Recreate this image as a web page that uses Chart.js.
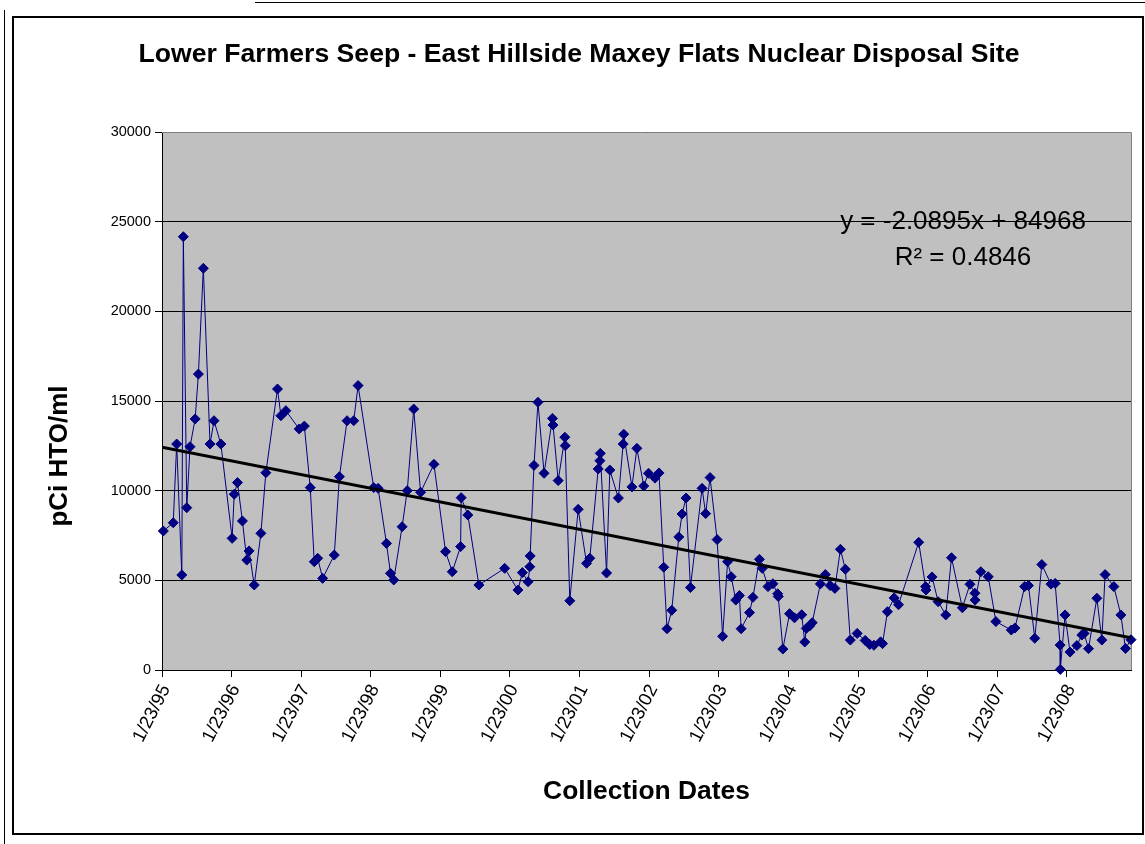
<!DOCTYPE html>
<html><head><meta charset="utf-8">
<script src="https://cdn.jsdelivr.net/npm/chart.js@4.4.1/dist/chart.umd.min.js"></script>
<style>html,body{margin:0;padding:0;background:#fff;}canvas{display:block;}</style>
</head><body>
<canvas id="c" width="1145" height="844"></canvas>
<script>
const chartTitle = 'Lower Farmers Seep - East Hillside Maxey Flats Nuclear Disposal Site';
const xAxisTitle = 'Collection Dates';
const yAxisTitle = 'pCi HTO/ml';
const tickLabels = ['1/23/95','1/23/96','1/23/97','1/23/98','1/23/99','1/23/00','1/23/01','1/23/02','1/23/03','1/23/04','1/23/05','1/23/06','1/23/07','1/23/08'];
const yTickStep = 5000;
const yMax = 30000;
// Collection dates as Excel date serials (days since 12/30/1899)
const dates = [34729,34781,34799,34826,34834,34852,34869,34896,34913,34939,
34974,34995,35031,35090,35101,35118,35144,35167,35179,35206,
35241,35267,35328,35346,35372,35442,35469,35500,35521,35539,
35565,35626,35653,35693,35728,35751,35833,35856,35900,35921,
35938,35982,36009,36043,36079,36149,36210,36245,36289,36292,
36327,36385,36520,36590,36613,36643,36652,36654,36674,36695,
36727,36771,36774,36801,36836,36838,36862,36906,36950,36967,
37011,37020,37022,37055,37072,37117,37142,37145,37188,37214,
37250,37275,37309,37330,37355,37372,37397,37434,37451,37472,
37495,37556,37575,37598,37635,37664,37690,37709,37733,37752,
37761,37805,37823,37857,37872,37902,37928,37953,37956,37980,
38015,38041,38079,38095,38103,38120,38134,38177,38203,38228,
38253,38282,38308,38334,38370,38412,38436,38458,38493,38503,
38529,38564,38587,38693,38729,38731,38763,38795,38835,38865,
38922,38962,38988,38989,39019,39058,39098,39179,39198,39249,
39269,39302,39339,39387,39409,39435,39436,39461,39487,39523,
39549,39561,39584,39628,39654,39671,39717,39754,39778,39807];
// pCi HTO/ml
const values = [7750,8210,12600,5300,24160,9050,12450,14000,16500,22400,
12600,13900,12600,7340,9800,10450,8310,6130,6640,4740,
7620,11000,15670,14180,14460,13440,13600,10170,6040,6230,
5110,6410,10780,13900,13900,15860,10170,10130,7060,5390,
5020,7990,10000,14550,9910,11470,6600,5480,6880,9610,
8640,4740,5670,4460,5430,4920,5760,6360,11410,14930,
10970,14030,13660,10560,12980,12510,3860,8960,5950,6230,
11210,11670,12080,5410,11150,9590,12600,13150,10210,12360,
10260,10970,10700,10990,5730,2300,3330,7420,8700,9590,
4600,10130,8720,10730,7270,1880,6040,5200,3900,4150,
2300,3200,4050,6170,5670,4650,4810,4250,4100,1170,
3140,2910,3080,1560,2320,2450,2640,4800,5320,4710,
4550,6730,5620,1670,2040,1650,1420,1380,1570,1470,
3250,4020,3640,7120,4650,4460,5190,3810,3070,6260,
3470,4780,4280,3900,5480,5200,2700,2230,2340,4650,
4710,1770,5880,4790,4830,1390,30,3070,1000,1360,
1950,2040,1190,4000,1670,5320,4650,3070,1200,1690];
const trendSlope = -2.0895;
const trendIntercept = 84968;
const trendLabel = 'y = -2.0895x + 84968';
const r2Label = 'R\u00B2 = 0.4846';

const FONT = '"Liberation Sans", Arial, sans-serif';
const EPOCH = Date.UTC(1899, 11, 30);
function labelToSerial(s) {
  const [m, d, y] = s.split('/').map(Number);
  const yr = y < 50 ? 2000 + y : 1900 + y;
  return Math.round((Date.UTC(yr, m - 1, d) - EPOCH) / 86400000);
}
const xMin = labelToSerial(tickLabels[0]);
const xMax = dates[dates.length - 1];

const framePlugin = {
  id: 'frame',
  beforeDraw(chart) {
    const {ctx, chartArea: a} = chart;
    ctx.save();
    ctx.fillStyle = '#fff';
    ctx.fillRect(0, 0, chart.width, chart.height);
    ctx.strokeStyle = '#000';
    ctx.lineWidth = 1;
    ctx.beginPath();
    ctx.moveTo(255, 2.5); ctx.lineTo(chart.width, 2.5);
    ctx.moveTo(4.5, 10); ctx.lineTo(4.5, chart.height);
    ctx.stroke();
    ctx.lineWidth = 2;
    ctx.strokeRect(13, 17, 1130, 817);
    ctx.fillStyle = '#C0C0C0';
    ctx.fillRect(a.left, a.top, a.right - a.left, a.bottom - a.top);
    ctx.restore();
  },
  beforeDatasetsDraw(chart) {
    const {ctx, chartArea: a} = chart;
    ctx.save();
    ctx.strokeStyle = '#808080';
    ctx.lineWidth = 1;
    ctx.beginPath();
    ctx.moveTo(a.left, a.top + 0.5); ctx.lineTo(a.right + 0.5, a.top + 0.5);
    ctx.lineTo(a.right + 0.5, a.bottom);
    ctx.stroke();
    ctx.restore();
  },
  afterDraw(chart) {
    const {ctx, chartArea: a} = chart;
    ctx.save();
    ctx.fillStyle = '#000';
    ctx.textAlign = 'center';
    ctx.textBaseline = 'middle';
    ctx.font = 'bold 26.6px ' + FONT;
    ctx.fillText(chartTitle, 579, 55);
    ctx.font = '26px ' + FONT;
    ctx.fillText(trendLabel, a.right - 168, a.top + 90);
    ctx.fillText(r2Label, a.right - 168, a.top + 126);
    ctx.font = 'bold 26px ' + FONT;
    ctx.translate(60, 456);
    ctx.rotate(-Math.PI / 2);
    ctx.fillText(yAxisTitle, 0, 0);
    ctx.restore();
  }
};

new Chart(document.getElementById('c'), {
  type: 'line',
  data: {
    datasets: [
      {
        label: 'Linear trend',
        data: [{x: xMin, y: trendSlope * xMin + trendIntercept}, {x: xMax, y: trendSlope * xMax + trendIntercept}],
        borderColor: '#000', borderWidth: 3, pointRadius: 0, order: 0
      },
      {
        label: 'Lower Farmers Seep',
        data: dates.map((d, i) => ({x: d, y: values[i]})),
        borderColor: '#000080', backgroundColor: '#000080', borderWidth: 1,
        pointStyle: 'rectRot', pointRadius: 5, pointBorderWidth: 1,
        pointBackgroundColor: '#000080', pointBorderColor: '#000080',
        tension: 0, clip: false, order: 1
      }
    ]
  },
  options: {
    responsive: false, animation: false, devicePixelRatio: 1,
    layout: {padding: {left: 0, right: 14, top: 132, bottom: 0}},
    plugins: {
      legend: {display: false},
      tooltip: {enabled: false},
      title: {display: false}
    },
    scales: {
      x: {
        type: 'linear', min: xMin, max: xMax,
        afterBuildTicks(scale) { scale.ticks = tickLabels.map(l => ({value: labelToSerial(l)})); },
        afterFit(scale) { scale.height = 174; },
        ticks: {autoSkip: false, maxRotation: 63, minRotation: 63, color: '#000', padding: 4,
          labelOffset: 4, font: {family: FONT, size: 18.5},
          callback: (v, i) => tickLabels[i]},
        grid: {drawOnChartArea: false, drawTicks: true, tickLength: 7, tickColor: '#000'},
        border: {color: '#000', width: 1},
        title: {display: true, text: xAxisTitle, color: '#000',
          font: {family: FONT, size: 26.4, weight: 'bold'}, padding: {top: 0, bottom: 36}}
      },
      y: {
        min: 0, max: yMax,
        afterFit(scale) { scale.width = 162; },
        ticks: {stepSize: yTickStep, color: '#000', padding: 4, font: {family: FONT, size: 14.5},
          callback: v => String(v)},
        grid: {color: '#000', lineWidth: 1, tickColor: '#000', tickLength: 7},
        border: {color: '#000', width: 1}
      }
    }
  },
  plugins: [framePlugin]
});
</script>
</body></html>
